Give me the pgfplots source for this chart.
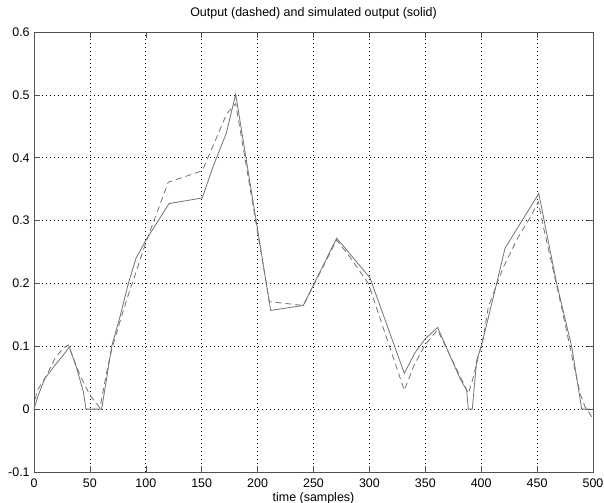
\documentclass[border=0pt]{standalone}
\usepackage{pgfplots}
\pgfplotsset{compat=1.18}
\usepackage{fontspec}
\setmainfont{Liberation Sans}
\definecolor{linegray}{RGB}{115,115,115}
\definecolor{framegray}{RGB}{80,80,80}
\begin{document}
\fontsize{12.5}{15}\selectfont
\begin{tikzpicture}
\useasboundingbox (-34bp,-31bp) rectangle (570bp,472bp);
\begin{axis}[
  at={(0,0)}, anchor=south west,
  scale only axis, width=559bp, height=440bp,
  font=\fontsize{12.5}{15}\selectfont,
  every tick label/.append style={font=\fontsize{12.5}{15}\selectfont},
  xmin=0, xmax=500, ymin=-0.1, ymax=0.6,
  xtick={0,50,...,500},
  ytick={-0.1,0,0.1,0.2,0.3,0.4,0.5,0.6},
  yticklabels={-0.1,0,0.1,0.2,0.3,0.4,0.5,0.6},
  /pgf/number format/assume math mode=true,
  tick align=inside,
  major tick length=6bp,
  axis line style={framegray, line width=0.8bp},
  every tick/.style={framegray, line width=0.6bp},
  grid=major,
  major grid style={black, line width=0.7bp, dash pattern=on 1bp off 3bp},
  x tick label style={anchor=base, yshift=-15bp},
  xlabel={time (samples)},
  xlabel style={at={(axis description cs:0.5,0)}, anchor=base, yshift=-29.5bp, font=\fontsize{12.5}{15}\selectfont},
  title={Output (dashed) and simulated output (solid)},
  title style={at={(axis description cs:0.5,1)}, anchor=base, yshift=10bp, font=\fontsize{12.5}{15}\selectfont},
  clip=true,
]
% simulated output (solid)
\addplot[linegray, line width=0.8bp] coordinates {
(0,0) (0.9,0.005) (3.8,0.022) (9.8,0.049) (18.8,0.070) (26.2,0.086) (31.6,0.099)
(38.2,0.065) (44.1,0.028) (46.5,0) (60.5,0)
(65,0.049) (69.5,0.100) (76.9,0.147) (84.4,0.200) (91.2,0.240)
(100.8,0.271) (111.2,0.300) (120.8,0.327) (150.5,0.336)
(160,0.385) (172,0.439) (180.4,0.501)
(211.7,0.157) (240.9,0.165) (270.7,0.272) (300.5,0.209)
(331.2,0.057) (340.8,0.090) (350,0.112) (361,0.130)
(381,0.049) (387,0.030) (388.5,0) (392,0)
(396,0.078) (400.4,0.102) (413.8,0.200) (421.3,0.256) (451.5,0.343)
(467.5,0.200) (481,0.099) (489.9,0) (497,0)
};
% output (dashed)
\addplot[linegray, line width=0.8bp, dash pattern=on 6bp off 4bp] coordinates {
(0,0) (2.4,0.028) (11.3,0.054) (18.8,0.081) (26.2,0.097) (30.7,0.102)
(41.1,0.054) (50.1,0.022) (59,0.002)
(62,0.030) (66,0.068) (70,0.098) (77,0.140) (84,0.180) (92.4,0.224)
(100.8,0.269) (120.1,0.361) (148.5,0.378) (151.5,0.383)
(172.4,0.470) (180.4,0.486)
(210.5,0.171) (241,0.165) (270.7,0.269) (282.6,0.242) (299,0.200)
(331.2,0.030) (340,0.070) (349.7,0.102) (361,0.126)
(388.5,0.025) (392,0.045) (402,0.115) (406.4,0.163) (419.8,0.226)
(433.2,0.274) (445.2,0.309) (451,0.330)
(455.6,0.290) (470.5,0.173) (479.4,0.099) (488.4,0.025) (492.8,0.004) (498.8,-0.012) (500,-0.014)
};
\end{axis}
\end{tikzpicture}
\end{document}
